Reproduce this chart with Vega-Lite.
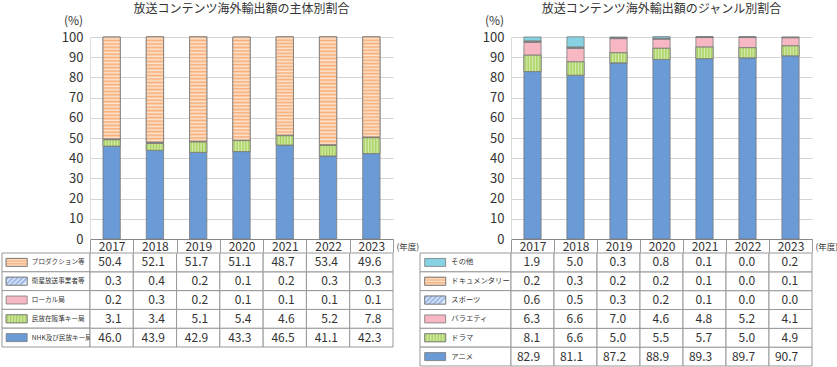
{
  "$schema": "https://vega.github.io/schema/vega-lite/v6.json",
  "padding": {"left": 1, "top": 3, "right": 0, "bottom": 0},
  "columns": 5,
  "align": "each",
  "bounds": "flush",
  "spacing": {"row": 14, "column": 0},
  "config": {
    "view": {"stroke": null},
    "font": "Noto Sans CJK JP",
    "axis": {"labelColor": "#333", "titleColor": "#333", "labelFont": "Noto Sans CJK JP", "titleFont": "Noto Sans CJK JP"},
    "title": {"font": "Noto Sans CJK JP", "color": "#333"}
  },
  "resolve": {"scale": {"color": "independent"}},
  "datasets": {
    "left": [
      {"year": "2017", "series": "NHK及び民放キー局", "value": 46.0},
      {"year": "2017", "series": "民放在阪準キー局", "value": 3.1},
      {"year": "2017", "series": "ローカル局", "value": 0.2},
      {"year": "2017", "series": "衛星放送事業者等", "value": 0.3},
      {"year": "2017", "series": "プロダクション等", "value": 50.4},
      {"year": "2018", "series": "NHK及び民放キー局", "value": 43.9},
      {"year": "2018", "series": "民放在阪準キー局", "value": 3.4},
      {"year": "2018", "series": "ローカル局", "value": 0.3},
      {"year": "2018", "series": "衛星放送事業者等", "value": 0.4},
      {"year": "2018", "series": "プロダクション等", "value": 52.1},
      {"year": "2019", "series": "NHK及び民放キー局", "value": 42.9},
      {"year": "2019", "series": "民放在阪準キー局", "value": 5.1},
      {"year": "2019", "series": "ローカル局", "value": 0.2},
      {"year": "2019", "series": "衛星放送事業者等", "value": 0.2},
      {"year": "2019", "series": "プロダクション等", "value": 51.7},
      {"year": "2020", "series": "NHK及び民放キー局", "value": 43.3},
      {"year": "2020", "series": "民放在阪準キー局", "value": 5.4},
      {"year": "2020", "series": "ローカル局", "value": 0.1},
      {"year": "2020", "series": "衛星放送事業者等", "value": 0.1},
      {"year": "2020", "series": "プロダクション等", "value": 51.1},
      {"year": "2021", "series": "NHK及び民放キー局", "value": 46.5},
      {"year": "2021", "series": "民放在阪準キー局", "value": 4.6},
      {"year": "2021", "series": "ローカル局", "value": 0.1},
      {"year": "2021", "series": "衛星放送事業者等", "value": 0.2},
      {"year": "2021", "series": "プロダクション等", "value": 48.7},
      {"year": "2022", "series": "NHK及び民放キー局", "value": 41.1},
      {"year": "2022", "series": "民放在阪準キー局", "value": 5.2},
      {"year": "2022", "series": "ローカル局", "value": 0.1},
      {"year": "2022", "series": "衛星放送事業者等", "value": 0.3},
      {"year": "2022", "series": "プロダクション等", "value": 53.4},
      {"year": "2023", "series": "NHK及び民放キー局", "value": 42.3},
      {"year": "2023", "series": "民放在阪準キー局", "value": 7.8},
      {"year": "2023", "series": "ローカル局", "value": 0.1},
      {"year": "2023", "series": "衛星放送事業者等", "value": 0.3},
      {"year": "2023", "series": "プロダクション等", "value": 49.6}
    ],
    "right": [
      {"year": "2017", "series": "アニメ", "value": 82.9},
      {"year": "2017", "series": "ドラマ", "value": 8.1},
      {"year": "2017", "series": "バラエティ", "value": 6.3},
      {"year": "2017", "series": "スポーツ", "value": 0.6},
      {"year": "2017", "series": "ドキュメンタリー", "value": 0.2},
      {"year": "2017", "series": "その他", "value": 1.9},
      {"year": "2018", "series": "アニメ", "value": 81.1},
      {"year": "2018", "series": "ドラマ", "value": 6.6},
      {"year": "2018", "series": "バラエティ", "value": 6.6},
      {"year": "2018", "series": "スポーツ", "value": 0.5},
      {"year": "2018", "series": "ドキュメンタリー", "value": 0.3},
      {"year": "2018", "series": "その他", "value": 5.0},
      {"year": "2019", "series": "アニメ", "value": 87.2},
      {"year": "2019", "series": "ドラマ", "value": 5.0},
      {"year": "2019", "series": "バラエティ", "value": 7.0},
      {"year": "2019", "series": "スポーツ", "value": 0.3},
      {"year": "2019", "series": "ドキュメンタリー", "value": 0.2},
      {"year": "2019", "series": "その他", "value": 0.3},
      {"year": "2020", "series": "アニメ", "value": 88.9},
      {"year": "2020", "series": "ドラマ", "value": 5.5},
      {"year": "2020", "series": "バラエティ", "value": 4.6},
      {"year": "2020", "series": "スポーツ", "value": 0.2},
      {"year": "2020", "series": "ドキュメンタリー", "value": 0.2},
      {"year": "2020", "series": "その他", "value": 0.8},
      {"year": "2021", "series": "アニメ", "value": 89.3},
      {"year": "2021", "series": "ドラマ", "value": 5.7},
      {"year": "2021", "series": "バラエティ", "value": 4.8},
      {"year": "2021", "series": "スポーツ", "value": 0.1},
      {"year": "2021", "series": "ドキュメンタリー", "value": 0.1},
      {"year": "2021", "series": "その他", "value": 0.1},
      {"year": "2022", "series": "アニメ", "value": 89.7},
      {"year": "2022", "series": "ドラマ", "value": 5.0},
      {"year": "2022", "series": "バラエティ", "value": 5.2},
      {"year": "2022", "series": "スポーツ", "value": 0.0},
      {"year": "2022", "series": "ドキュメンタリー", "value": 0.0},
      {"year": "2022", "series": "その他", "value": 0.0},
      {"year": "2023", "series": "アニメ", "value": 90.7},
      {"year": "2023", "series": "ドラマ", "value": 4.9},
      {"year": "2023", "series": "バラエティ", "value": 4.1},
      {"year": "2023", "series": "スポーツ", "value": 0.0},
      {"year": "2023", "series": "ドキュメンタリー", "value": 0.1},
      {"year": "2023", "series": "その他", "value": 0.2}
    ],
    "leftSeries": [
      {"series": "プロダクション等"},
      {"series": "衛星放送事業者等"},
      {"series": "ローカル局"},
      {"series": "民放在阪準キー局"},
      {"series": "NHK及び民放キー局"}
    ],
    "rightSeries": [
      {"series": "その他"},
      {"series": "ドキュメンタリー"},
      {"series": "スポーツ"},
      {"series": "バラエティ"},
      {"series": "ドラマ"},
      {"series": "アニメ"}
    ]
  },
  "concat": [
    {"width": 88, "height": 202, "data": {"values": [{}]}, "mark": {"type": "text", "text": ""}, "encoding": {}},
    {
      "width": 303,
      "height": 202,
      "title": {"text": "放送コンテンツ海外輸出額の主体別割合", "fontSize": 12, "fontWeight": "normal", "anchor": "middle", "frame": "group", "offset": -2},
      "data": {"name": "left"},
      "transform": [{"stack": "value", "groupby": ["year"], "as": ["v0", "v1"]}],
      "encoding": {
        "x": {"field": "year", "type": "nominal", "scale": {"paddingInner": 0, "paddingOuter": 0},
          "axis": {"title": "(年度)", "titleAngle": 0, "titleX": 306, "titleY": 7, "titleAlign": "left", "titleBaseline": "middle", "titleFontSize": 8.5, "titleFontWeight": "normal",
            "labelAngle": 0, "labelFontSize": 12, "labelBaseline": "middle", "labelPadding": -5.5, "tickBand": "extent", "tickSize": 13, "tickColor": "#999", "domainColor": "#888", "grid": false}},
        "y": {"field": "v1", "type": "quantitative", "scale": {"domain": [0, 100], "nice": false},
          "axis": {"title": "(%)", "titleAngle": 0, "titleX": -17, "titleY": -17, "titleAlign": "center", "titleBaseline": "middle", "titleFontSize": 12, "titleFontWeight": "normal",
            "values": [0, 10, 20, 30, 40, 50, 60, 70, 80, 90, 100], "labelFontSize": 13, "labelPadding": 7, "ticks": false, "domainColor": "#dcdcdc", "grid": true, "gridColor": "#d4d4d4"}},
        "y2": {"field": "v0"}
      },
      "layer": [
        {"mark": {"type": "bar", "width": {"band": 0.4}, "stroke": "#7a7a7a", "strokeWidth": 0.8},
          "encoding": {"color": {"field": "series", "type": "nominal", "legend": null,
            "scale": {"domain": ["プロダクション等", "衛星放送事業者等", "ローカル局", "民放在阪準キー局", "NHK及び民放キー局"], "range": ["#f9bf93", "#a9c3ec", "#f7b8c4", "#bfe07f", "#6b9bd6"]}}}},
        {"transform": [{"filter": "datum.series == 'プロダクション等'"}],
          "mark": {"type": "bar", "width": {"band": 0.4}, "stroke": "#7a7a7a", "strokeWidth": 0.8,
            "fill": {"gradient": "linear", "x1": 0, "y1": 0, "x2": 0, "y2": 1, "stops": [
              {"offset": 0, "color": "#f7ae78"}, {"offset": 0.02, "color": "#fde4cf"}, {"offset": 0.0333, "color": "#f7ae78"}, {"offset": 0.0533, "color": "#fde4cf"},
              {"offset": 0.0667, "color": "#f7ae78"}, {"offset": 0.0867, "color": "#fde4cf"}, {"offset": 0.1, "color": "#f7ae78"}, {"offset": 0.12, "color": "#fde4cf"},
              {"offset": 0.1333, "color": "#f7ae78"}, {"offset": 0.1533, "color": "#fde4cf"}, {"offset": 0.1667, "color": "#f7ae78"}, {"offset": 0.1867, "color": "#fde4cf"},
              {"offset": 0.2, "color": "#f7ae78"}, {"offset": 0.22, "color": "#fde4cf"}, {"offset": 0.2333, "color": "#f7ae78"}, {"offset": 0.2533, "color": "#fde4cf"},
              {"offset": 0.2667, "color": "#f7ae78"}, {"offset": 0.2867, "color": "#fde4cf"}, {"offset": 0.3, "color": "#f7ae78"}, {"offset": 0.32, "color": "#fde4cf"},
              {"offset": 0.3333, "color": "#f7ae78"}, {"offset": 0.3533, "color": "#fde4cf"}, {"offset": 0.3667, "color": "#f7ae78"}, {"offset": 0.3867, "color": "#fde4cf"},
              {"offset": 0.4, "color": "#f7ae78"}, {"offset": 0.42, "color": "#fde4cf"}, {"offset": 0.4333, "color": "#f7ae78"}, {"offset": 0.4533, "color": "#fde4cf"},
              {"offset": 0.4667, "color": "#f7ae78"}, {"offset": 0.4867, "color": "#fde4cf"}, {"offset": 0.5, "color": "#f7ae78"}, {"offset": 0.52, "color": "#fde4cf"},
              {"offset": 0.5333, "color": "#f7ae78"}, {"offset": 0.5533, "color": "#fde4cf"}, {"offset": 0.5667, "color": "#f7ae78"}, {"offset": 0.5867, "color": "#fde4cf"},
              {"offset": 0.6, "color": "#f7ae78"}, {"offset": 0.62, "color": "#fde4cf"}, {"offset": 0.6333, "color": "#f7ae78"}, {"offset": 0.6533, "color": "#fde4cf"},
              {"offset": 0.6667, "color": "#f7ae78"}, {"offset": 0.6867, "color": "#fde4cf"}, {"offset": 0.7, "color": "#f7ae78"}, {"offset": 0.72, "color": "#fde4cf"},
              {"offset": 0.7333, "color": "#f7ae78"}, {"offset": 0.7533, "color": "#fde4cf"}, {"offset": 0.7667, "color": "#f7ae78"}, {"offset": 0.7867, "color": "#fde4cf"},
              {"offset": 0.8, "color": "#f7ae78"}, {"offset": 0.82, "color": "#fde4cf"}, {"offset": 0.8333, "color": "#f7ae78"}, {"offset": 0.8533, "color": "#fde4cf"},
              {"offset": 0.8667, "color": "#f7ae78"}, {"offset": 0.8867, "color": "#fde4cf"}, {"offset": 0.9, "color": "#f7ae78"}, {"offset": 0.92, "color": "#fde4cf"},
              {"offset": 0.9333, "color": "#f7ae78"}, {"offset": 0.9533, "color": "#fde4cf"}, {"offset": 0.9667, "color": "#f7ae78"}, {"offset": 0.9867, "color": "#fde4cf"},
              {"offset": 1, "color": "#f7ae78"}]}}},
        {"transform": [{"filter": "datum.series == '民放在阪準キー局'"}],
          "mark": {"type": "bar", "width": {"band": 0.4}, "stroke": "#7a7a7a", "strokeWidth": 0.8,
            "fill": {"gradient": "linear", "x1": 0, "y1": 0, "x2": 1, "y2": 0, "stops": [
              {"offset": 0, "color": "#d6ecac"}, {"offset": 0.0833, "color": "#a5ce5c"}, {"offset": 0.1667, "color": "#d6ecac"}, {"offset": 0.25, "color": "#a5ce5c"},
              {"offset": 0.3333, "color": "#d6ecac"}, {"offset": 0.4167, "color": "#a5ce5c"}, {"offset": 0.5, "color": "#d6ecac"}, {"offset": 0.5833, "color": "#a5ce5c"},
              {"offset": 0.6667, "color": "#d6ecac"}, {"offset": 0.75, "color": "#a5ce5c"}, {"offset": 0.8333, "color": "#d6ecac"}, {"offset": 0.9167, "color": "#a5ce5c"},
              {"offset": 1, "color": "#d6ecac"}]}}}
      ]
    },
    {"width": 27, "height": 202, "data": {"values": [{}]}, "mark": {"type": "text", "text": ""}, "encoding": {}},
    {"width": 91, "height": 202, "data": {"values": [{}]}, "mark": {"type": "text", "text": ""}, "encoding": {}},
    {
      "width": 301,
      "height": 202,
      "title": {"text": "放送コンテンツ海外輸出額のジャンル別割合", "fontSize": 12, "fontWeight": "normal", "anchor": "middle", "frame": "group", "offset": -2},
      "data": {"name": "right"},
      "transform": [{"stack": "value", "groupby": ["year"], "as": ["v0", "v1"]}],
      "encoding": {
        "x": {"field": "year", "type": "nominal", "scale": {"paddingInner": 0, "paddingOuter": 0},
          "axis": {"title": "(年度)", "titleAngle": 0, "titleX": 304, "titleY": 7, "titleAlign": "left", "titleBaseline": "middle", "titleFontSize": 8.5, "titleFontWeight": "normal",
            "labelAngle": 0, "labelFontSize": 12, "labelBaseline": "middle", "labelPadding": -5.5, "tickBand": "extent", "tickSize": 13, "tickColor": "#999", "domainColor": "#888", "grid": false}},
        "y": {"field": "v1", "type": "quantitative", "scale": {"domain": [0, 100], "nice": false},
          "axis": {"title": "(%)", "titleAngle": 0, "titleX": -17, "titleY": -17, "titleAlign": "center", "titleBaseline": "middle", "titleFontSize": 12, "titleFontWeight": "normal",
            "values": [0, 10, 20, 30, 40, 50, 60, 70, 80, 90, 100], "labelFontSize": 13, "labelPadding": 7, "ticks": false, "domainColor": "#dcdcdc", "grid": true, "gridColor": "#d4d4d4"}},
        "y2": {"field": "v0"}
      },
      "layer": [
        {"mark": {"type": "bar", "width": {"band": 0.4}, "stroke": "#7a7a7a", "strokeWidth": 0.8},
          "encoding": {"color": {"field": "series", "type": "nominal", "legend": null,
            "scale": {"domain": ["その他", "ドキュメンタリー", "スポーツ", "バラエティ", "ドラマ", "アニメ"], "range": ["#86d2e2", "#f9bf93", "#a9c3ec", "#f7b8c4", "#bfe07f", "#6b9bd6"]}}}},
        {"transform": [{"filter": "datum.series == 'ドラマ'"}],
          "mark": {"type": "bar", "width": {"band": 0.4}, "stroke": "#7a7a7a", "strokeWidth": 0.8,
            "fill": {"gradient": "linear", "x1": 0, "y1": 0, "x2": 1, "y2": 0, "stops": [
              {"offset": 0, "color": "#d6ecac"}, {"offset": 0.0833, "color": "#a5ce5c"}, {"offset": 0.1667, "color": "#d6ecac"}, {"offset": 0.25, "color": "#a5ce5c"},
              {"offset": 0.3333, "color": "#d6ecac"}, {"offset": 0.4167, "color": "#a5ce5c"}, {"offset": 0.5, "color": "#d6ecac"}, {"offset": 0.5833, "color": "#a5ce5c"},
              {"offset": 0.6667, "color": "#d6ecac"}, {"offset": 0.75, "color": "#a5ce5c"}, {"offset": 0.8333, "color": "#d6ecac"}, {"offset": 0.9167, "color": "#a5ce5c"},
              {"offset": 1, "color": "#d6ecac"}]}}}
      ]
    },
    {
      "width": 88,
      "height": 94,
      "data": {"name": "leftSeries"},
      "encoding": {
        "y": {"field": "series", "type": "nominal", "sort": ["プロダクション等", "衛星放送事業者等", "ローカル局", "民放在阪準キー局", "NHK及び民放キー局"], "scale": {"paddingInner": 0, "paddingOuter": 0}, "axis": null}
      },
      "layer": [
        {"mark": {"type": "rect", "fill": "white", "stroke": "#999", "strokeWidth": 1}},
        {"mark": {"type": "point", "shape": "M-1,-0.38H1V0.38H-1Z", "size": 441, "filled": true, "opacity": 1, "stroke": "#7a7a7a", "strokeWidth": 0.8},
          "encoding": {
            "x": {"datum": "sw", "type": "nominal", "scale": {"type": "band", "domain": ["sw", "t1", "t2"], "paddingInner": 0, "paddingOuter": 0}, "axis": null},
            "color": {"field": "series", "type": "nominal", "legend": null,
              "scale": {"domain": ["プロダクション等", "衛星放送事業者等", "ローカル局", "民放在阪準キー局", "NHK及び民放キー局"], "range": ["#f9bf93", "#a9c3ec", "#f7b8c4", "#bfe07f", "#6b9bd6"]}}}},
        {"transform": [{"filter": "datum.series == 'プロダクション等'"}],
          "mark": {"type": "point", "shape": "M-1,-0.38H1V0.38H-1Z", "size": 441, "filled": true, "opacity": 1, "stroke": "#7a7a7a", "strokeWidth": 0.8,
            "fill": {"gradient": "linear", "x1": 0, "y1": 0, "x2": 0, "y2": 1, "stops": [
              {"offset": 0, "color": "#f7ae78"}, {"offset": 0.2, "color": "#fde4cf"}, {"offset": 0.3333, "color": "#f7ae78"}, {"offset": 0.5333, "color": "#fde4cf"},
              {"offset": 0.6667, "color": "#f7ae78"}, {"offset": 0.8667, "color": "#fde4cf"}, {"offset": 1, "color": "#f7ae78"}]}},
          "encoding": {"x": {"datum": "sw", "type": "nominal"}}},
        {"transform": [{"filter": "datum.series == '民放在阪準キー局'"}],
          "mark": {"type": "point", "shape": "M-1,-0.38H1V0.38H-1Z", "size": 441, "filled": true, "opacity": 1, "stroke": "#7a7a7a", "strokeWidth": 0.8,
            "fill": {"gradient": "linear", "x1": 0, "y1": 0, "x2": 1, "y2": 0, "stops": [
              {"offset": 0, "color": "#d6ecac"}, {"offset": 0.0714, "color": "#a5ce5c"}, {"offset": 0.1429, "color": "#d6ecac"}, {"offset": 0.2143, "color": "#a5ce5c"},
              {"offset": 0.2857, "color": "#d6ecac"}, {"offset": 0.3571, "color": "#a5ce5c"}, {"offset": 0.4286, "color": "#d6ecac"}, {"offset": 0.5, "color": "#a5ce5c"},
              {"offset": 0.5714, "color": "#d6ecac"}, {"offset": 0.6429, "color": "#a5ce5c"}, {"offset": 0.7143, "color": "#d6ecac"}, {"offset": 0.7857, "color": "#a5ce5c"},
              {"offset": 0.8571, "color": "#d6ecac"}, {"offset": 0.9286, "color": "#a5ce5c"}, {"offset": 1, "color": "#d6ecac"}]}},
          "encoding": {"x": {"datum": "sw", "type": "nominal"}}},
        {"transform": [{"filter": "datum.series == '衛星放送事業者等'"}],
          "mark": {"type": "point", "shape": "M-1,-0.38H1V0.38H-1Z", "size": 441, "filled": true, "opacity": 1, "stroke": "#7a7a7a", "strokeWidth": 0.8,
            "fill": {"gradient": "linear", "x1": 0, "y1": 0, "x2": 1, "y2": 0.38, "stops": [
              {"offset": 0, "color": "#dfe9f8"}, {"offset": 0.1, "color": "#8fb0e3"}, {"offset": 0.2, "color": "#dfe9f8"}, {"offset": 0.3, "color": "#8fb0e3"},
              {"offset": 0.4, "color": "#dfe9f8"}, {"offset": 0.5, "color": "#8fb0e3"}, {"offset": 0.6, "color": "#dfe9f8"}, {"offset": 0.7, "color": "#8fb0e3"},
              {"offset": 0.8, "color": "#dfe9f8"}, {"offset": 0.9, "color": "#8fb0e3"}, {"offset": 1, "color": "#dfe9f8"}]}},
          "encoding": {"x": {"datum": "sw", "type": "nominal"}}},
        {"mark": {"type": "text", "align": "left", "baseline": "middle", "dx": 0.5, "fontSize": 6.6, "color": "#333"},
          "encoding": {"x": {"datum": "t1", "type": "nominal", "bandPosition": 0}, "text": {"field": "series"}}}
      ]
    },
    {
      "width": 303,
      "height": 94,
      "data": {"name": "left"},
      "encoding": {
        "x": {"field": "year", "type": "nominal", "scale": {"paddingInner": 0, "paddingOuter": 0}, "axis": null},
        "y": {"field": "series", "type": "nominal", "sort": ["プロダクション等", "衛星放送事業者等", "ローカル局", "民放在阪準キー局", "NHK及び民放キー局"], "scale": {"paddingInner": 0, "paddingOuter": 0}, "axis": null}
      },
      "layer": [
        {"mark": {"type": "rect", "fill": "white", "stroke": "#999", "strokeWidth": 1}},
        {"mark": {"type": "text", "align": "right", "baseline": "middle", "fontSize": 12, "color": "#333"},
          "encoding": {"x": {"field": "year", "type": "nominal", "bandPosition": 0.73}, "text": {"field": "value", "type": "quantitative", "format": ".1f"}}}
      ]
    },
    {"width": 27, "height": 94, "data": {"values": [{}]}, "mark": {"type": "text", "text": ""}, "encoding": {}},
    {
      "width": 91,
      "height": 113,
      "data": {"name": "rightSeries"},
      "encoding": {
        "y": {"field": "series", "type": "nominal", "sort": ["その他", "ドキュメンタリー", "スポーツ", "バラエティ", "ドラマ", "アニメ"], "scale": {"paddingInner": 0, "paddingOuter": 0}, "axis": null}
      },
      "layer": [
        {"mark": {"type": "rect", "fill": "white", "stroke": "#999", "strokeWidth": 1}},
        {"mark": {"type": "point", "shape": "M-1,-0.38H1V0.38H-1Z", "size": 441, "filled": true, "opacity": 1, "stroke": "#7a7a7a", "strokeWidth": 0.8},
          "encoding": {
            "x": {"datum": "sw", "type": "nominal", "scale": {"type": "band", "domain": ["sw", "t1", "t2"], "paddingInner": 0, "paddingOuter": 0}, "axis": null},
            "color": {"field": "series", "type": "nominal", "legend": null,
              "scale": {"domain": ["その他", "ドキュメンタリー", "スポーツ", "バラエティ", "ドラマ", "アニメ"], "range": ["#86d2e2", "#f9bf93", "#a9c3ec", "#f7b8c4", "#bfe07f", "#6b9bd6"]}}}},
        {"transform": [{"filter": "datum.series == 'ドキュメンタリー'"}],
          "mark": {"type": "point", "shape": "M-1,-0.38H1V0.38H-1Z", "size": 441, "filled": true, "opacity": 1, "stroke": "#7a7a7a", "strokeWidth": 0.8,
            "fill": {"gradient": "linear", "x1": 0, "y1": 0, "x2": 0, "y2": 1, "stops": [
              {"offset": 0, "color": "#f7ae78"}, {"offset": 0.2, "color": "#fde4cf"}, {"offset": 0.3333, "color": "#f7ae78"}, {"offset": 0.5333, "color": "#fde4cf"},
              {"offset": 0.6667, "color": "#f7ae78"}, {"offset": 0.8667, "color": "#fde4cf"}, {"offset": 1, "color": "#f7ae78"}]}},
          "encoding": {"x": {"datum": "sw", "type": "nominal"}}},
        {"transform": [{"filter": "datum.series == 'ドラマ'"}],
          "mark": {"type": "point", "shape": "M-1,-0.38H1V0.38H-1Z", "size": 441, "filled": true, "opacity": 1, "stroke": "#7a7a7a", "strokeWidth": 0.8,
            "fill": {"gradient": "linear", "x1": 0, "y1": 0, "x2": 1, "y2": 0, "stops": [
              {"offset": 0, "color": "#d6ecac"}, {"offset": 0.0714, "color": "#a5ce5c"}, {"offset": 0.1429, "color": "#d6ecac"}, {"offset": 0.2143, "color": "#a5ce5c"},
              {"offset": 0.2857, "color": "#d6ecac"}, {"offset": 0.3571, "color": "#a5ce5c"}, {"offset": 0.4286, "color": "#d6ecac"}, {"offset": 0.5, "color": "#a5ce5c"},
              {"offset": 0.5714, "color": "#d6ecac"}, {"offset": 0.6429, "color": "#a5ce5c"}, {"offset": 0.7143, "color": "#d6ecac"}, {"offset": 0.7857, "color": "#a5ce5c"},
              {"offset": 0.8571, "color": "#d6ecac"}, {"offset": 0.9286, "color": "#a5ce5c"}, {"offset": 1, "color": "#d6ecac"}]}},
          "encoding": {"x": {"datum": "sw", "type": "nominal"}}},
        {"transform": [{"filter": "datum.series == 'スポーツ'"}],
          "mark": {"type": "point", "shape": "M-1,-0.38H1V0.38H-1Z", "size": 441, "filled": true, "opacity": 1, "stroke": "#7a7a7a", "strokeWidth": 0.8,
            "fill": {"gradient": "linear", "x1": 0, "y1": 0, "x2": 1, "y2": 0.38, "stops": [
              {"offset": 0, "color": "#dfe9f8"}, {"offset": 0.1, "color": "#8fb0e3"}, {"offset": 0.2, "color": "#dfe9f8"}, {"offset": 0.3, "color": "#8fb0e3"},
              {"offset": 0.4, "color": "#dfe9f8"}, {"offset": 0.5, "color": "#8fb0e3"}, {"offset": 0.6, "color": "#dfe9f8"}, {"offset": 0.7, "color": "#8fb0e3"},
              {"offset": 0.8, "color": "#dfe9f8"}, {"offset": 0.9, "color": "#8fb0e3"}, {"offset": 1, "color": "#dfe9f8"}]}},
          "encoding": {"x": {"datum": "sw", "type": "nominal"}}},
        {"mark": {"type": "text", "align": "left", "baseline": "middle", "dx": 1, "fontSize": 7.3, "color": "#333"},
          "encoding": {"x": {"datum": "t1", "type": "nominal", "bandPosition": 0}, "text": {"field": "series"}}}
      ]
    },
    {
      "width": 301,
      "height": 113,
      "data": {"name": "right"},
      "encoding": {
        "x": {"field": "year", "type": "nominal", "scale": {"paddingInner": 0, "paddingOuter": 0}, "axis": null},
        "y": {"field": "series", "type": "nominal", "sort": ["その他", "ドキュメンタリー", "スポーツ", "バラエティ", "ドラマ", "アニメ"], "scale": {"paddingInner": 0, "paddingOuter": 0}, "axis": null}
      },
      "layer": [
        {"mark": {"type": "rect", "fill": "white", "stroke": "#999", "strokeWidth": 1}},
        {"mark": {"type": "text", "align": "right", "baseline": "middle", "fontSize": 12, "color": "#333"},
          "encoding": {"x": {"field": "year", "type": "nominal", "bandPosition": 0.68}, "text": {"field": "value", "type": "quantitative", "format": ".1f"}}}
      ]
    }
  ]
}
